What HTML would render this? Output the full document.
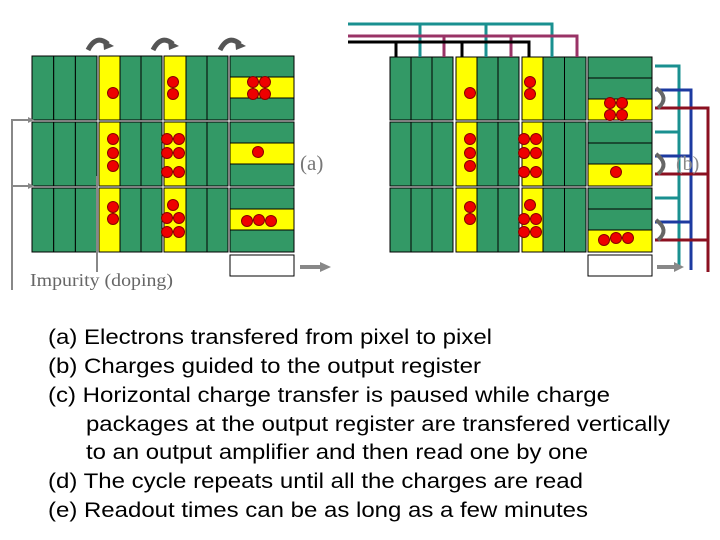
<!DOCTYPE html>
<html><head><meta charset="utf-8"><style>body{margin:0;background:#fff}svg{display:block}</style></head><body>
<svg width="720" height="540" xmlns="http://www.w3.org/2000/svg">
<g stroke="#000" stroke-width="1">
<rect x="32" y="56" width="21.7" height="64" fill="#339966"/><rect x="53.7" y="56" width="21.7" height="64" fill="#339966"/><rect x="75.4" y="56" width="21.6" height="64" fill="#339966"/>
<rect x="32" y="122" width="21.7" height="64" fill="#339966"/><rect x="53.7" y="122" width="21.7" height="64" fill="#339966"/><rect x="75.4" y="122" width="21.6" height="64" fill="#339966"/>
<rect x="32" y="188" width="21.7" height="64" fill="#339966"/><rect x="53.7" y="188" width="21.7" height="64" fill="#339966"/><rect x="75.4" y="188" width="21.6" height="64" fill="#339966"/>
<rect x="99" y="56" width="21" height="64" fill="#ffff00"/><rect x="120" y="56" width="21" height="64" fill="#339966"/><rect x="141" y="56" width="21" height="64" fill="#339966"/>
<rect x="99" y="122" width="21" height="64" fill="#ffff00"/><rect x="120" y="122" width="21" height="64" fill="#339966"/><rect x="141" y="122" width="21" height="64" fill="#339966"/>
<rect x="99" y="188" width="21" height="64" fill="#ffff00"/><rect x="120" y="188" width="21" height="64" fill="#339966"/><rect x="141" y="188" width="21" height="64" fill="#339966"/>
<rect x="164" y="56" width="22" height="64" fill="#ffff00"/><rect x="186" y="56" width="21" height="64" fill="#339966"/><rect x="207" y="56" width="21" height="64" fill="#339966"/>
<rect x="164" y="122" width="22" height="64" fill="#ffff00"/><rect x="186" y="122" width="21" height="64" fill="#339966"/><rect x="207" y="122" width="21" height="64" fill="#339966"/>
<rect x="164" y="188" width="22" height="64" fill="#ffff00"/><rect x="186" y="188" width="21" height="64" fill="#339966"/><rect x="207" y="188" width="21" height="64" fill="#339966"/>
<rect x="230" y="56" width="64" height="21" fill="#339966"/><rect x="230" y="77" width="64" height="21" fill="#ffff00"/><rect x="230" y="98" width="64" height="22" fill="#339966"/>
<rect x="230" y="122" width="64" height="21" fill="#339966"/><rect x="230" y="143" width="64" height="21" fill="#ffff00"/><rect x="230" y="164" width="64" height="22" fill="#339966"/>
<rect x="230" y="188" width="64" height="21" fill="#339966"/><rect x="230" y="209" width="64" height="21" fill="#ffff00"/><rect x="230" y="230" width="64" height="22" fill="#339966"/>
<rect x="230" y="255" width="64" height="21" fill="#fff"/>
<rect x="390" y="57" width="21" height="63" fill="#339966"/><rect x="411" y="57" width="21" height="63" fill="#339966"/><rect x="432" y="57" width="21" height="63" fill="#339966"/>
<rect x="390" y="122" width="21" height="64" fill="#339966"/><rect x="411" y="122" width="21" height="64" fill="#339966"/><rect x="432" y="122" width="21" height="64" fill="#339966"/>
<rect x="390" y="188" width="21" height="64" fill="#339966"/><rect x="411" y="188" width="21" height="64" fill="#339966"/><rect x="432" y="188" width="21" height="64" fill="#339966"/>
<rect x="456" y="57" width="21" height="63" fill="#ffff00"/><rect x="477" y="57" width="21" height="63" fill="#339966"/><rect x="498" y="57" width="21" height="63" fill="#339966"/>
<rect x="456" y="122" width="21" height="64" fill="#ffff00"/><rect x="477" y="122" width="21" height="64" fill="#339966"/><rect x="498" y="122" width="21" height="64" fill="#339966"/>
<rect x="456" y="188" width="21" height="64" fill="#ffff00"/><rect x="477" y="188" width="21" height="64" fill="#339966"/><rect x="498" y="188" width="21" height="64" fill="#339966"/>
<rect x="522" y="57" width="21" height="63" fill="#ffff00"/><rect x="543" y="57" width="21.5" height="63" fill="#339966"/><rect x="564.5" y="57" width="21.5" height="63" fill="#339966"/>
<rect x="522" y="122" width="21" height="64" fill="#ffff00"/><rect x="543" y="122" width="21.5" height="64" fill="#339966"/><rect x="564.5" y="122" width="21.5" height="64" fill="#339966"/>
<rect x="522" y="188" width="21" height="64" fill="#ffff00"/><rect x="543" y="188" width="21.5" height="64" fill="#339966"/><rect x="564.5" y="188" width="21.5" height="64" fill="#339966"/>
<rect x="588" y="57" width="64" height="21" fill="#339966"/><rect x="588" y="78" width="64" height="21" fill="#339966"/><rect x="588" y="99" width="64" height="21" fill="#ffff00"/>
<rect x="588" y="122" width="64" height="21" fill="#339966"/><rect x="588" y="143" width="64" height="21" fill="#339966"/><rect x="588" y="164" width="64" height="22" fill="#ffff00"/>
<rect x="588" y="188" width="64" height="21" fill="#339966"/><rect x="588" y="209" width="64" height="21" fill="#339966"/><rect x="588" y="230" width="64" height="22" fill="#ffff00"/>
<rect x="588" y="255" width="64" height="21" fill="#fff"/>
</g>
<g fill="#ee0000" stroke="#880000" stroke-width="1">
<circle cx="113" cy="93" r="5.5"/><circle cx="173" cy="82" r="5.5"/><circle cx="173" cy="94" r="5.5"/>
<circle cx="253" cy="82" r="5.5"/><circle cx="265" cy="82" r="5.5"/><circle cx="253" cy="94" r="5.5"/><circle cx="265" cy="94" r="5.5"/>
<circle cx="113" cy="139" r="5.5"/><circle cx="113" cy="153" r="5.5"/><circle cx="113" cy="166" r="5.5"/>
<circle cx="167" cy="139" r="5.5"/><circle cx="179" cy="139" r="5.5"/><circle cx="167" cy="153" r="5.5"/><circle cx="179" cy="153" r="5.5"/><circle cx="167" cy="172" r="5.5"/><circle cx="179" cy="172" r="5.5"/>
<circle cx="258" cy="152" r="5.5"/>
<circle cx="113" cy="207" r="5.5"/><circle cx="113" cy="219" r="5.5"/>
<circle cx="173" cy="205" r="5.5"/><circle cx="167" cy="218" r="5.5"/><circle cx="179" cy="218" r="5.5"/><circle cx="167" cy="232" r="5.5"/><circle cx="179" cy="232" r="5.5"/>
<circle cx="247" cy="221" r="5.5"/><circle cx="259" cy="220" r="5.5"/><circle cx="271" cy="221" r="5.5"/>
<circle cx="470" cy="93" r="5.5"/><circle cx="530" cy="82" r="5.5"/><circle cx="530" cy="94" r="5.5"/>
<circle cx="610" cy="103" r="5.5"/><circle cx="622" cy="103" r="5.5"/><circle cx="610" cy="115" r="5.5"/><circle cx="622" cy="115" r="5.5"/>
<circle cx="470" cy="139" r="5.5"/><circle cx="470" cy="153" r="5.5"/><circle cx="470" cy="166" r="5.5"/>
<circle cx="524" cy="139" r="5.5"/><circle cx="536" cy="139" r="5.5"/><circle cx="524" cy="153" r="5.5"/><circle cx="536" cy="153" r="5.5"/><circle cx="524" cy="172" r="5.5"/><circle cx="536" cy="172" r="5.5"/>
<circle cx="616" cy="172" r="5.5"/>
<circle cx="470" cy="207" r="5.5"/><circle cx="470" cy="219" r="5.5"/>
<circle cx="530" cy="205" r="5.5"/><circle cx="524" cy="219" r="5.5"/><circle cx="536" cy="219" r="5.5"/><circle cx="524" cy="232" r="5.5"/><circle cx="536" cy="232" r="5.5"/>
<circle cx="604" cy="240" r="5.5"/><circle cx="616" cy="238" r="5.5"/><circle cx="628" cy="238" r="5.5"/>
</g>
<g fill="none" stroke-width="3">
<path d="M348 24H552V57M420 24V57M486 24V57" stroke="#1a9090"/>
<path d="M348 36H577V57M444 36V57M511 36V57" stroke="#993366"/>
<path d="M348 42H529V57M396 42V57M462 42V57" stroke="#000"/>
</g>
<g fill="none" stroke-width="3">
<path d="M655 66H679V268M655 132H679M655 198H679" stroke="#1a9090"/>
<path d="M655 90H691V270M655 156H691M655 222H691" stroke="#1c3aa0"/>
<path d="M655 108H708V272M655 174H708M655 240H708" stroke="#8b1020"/>
</g>
<g fill="none" stroke="#666" stroke-width="4">
<path d="M656 88Q670 98 658 108"/><path d="M656 154Q670 164 658 174"/><path d="M656 220Q670 230 658 240"/>
</g>
<text x="676" y="170" font-family="Liberation Serif, serif" font-size="20" fill="#888">(b)</text>
<g fill="none" stroke="#555" stroke-width="5">
<path d="M88 50Q96 34 108 44"/><path d="M153 50Q161 34 173 44"/><path d="M220 50Q228 34 240 44"/>
</g>
<g fill="#555"><path d="M103 40L114 46L104 50Z"/><path d="M168 40L179 46L169 50Z"/><path d="M235 40L246 46L236 50Z"/></g>
<g stroke="#888" stroke-width="4"><line x1="300" y1="267" x2="322" y2="267"/><line x1="657" y1="267" x2="676" y2="267"/></g>
<g fill="#888"><path d="M320 262L331 267L320 272Z"/><path d="M674 262L684 267L674 272Z"/></g>
<g stroke="#888" stroke-width="2" fill="none"><path d="M12 290V120H30M12 186H30"/><path d="M97 176V272"/></g>
<g fill="#888"><path d="M28 117L34 120L28 123Z"/><path d="M28 183L34 186L28 189Z"/></g>
<text x="30" y="286" font-family="Liberation Serif, serif" font-size="18" fill="#666" textLength="143" lengthAdjust="spacingAndGlyphs">Impurity (doping)</text>
<text x="300" y="170" font-family="Liberation Serif, serif" font-size="21" fill="#777">(a)</text>
<g font-family="Liberation Sans, Arial, sans-serif" font-size="21" fill="#000">
<text x="48" y="344" textLength="444" lengthAdjust="spacingAndGlyphs">(a) Electrons transfered from pixel to pixel</text>
<text x="48" y="373" textLength="433" lengthAdjust="spacingAndGlyphs">(b) Charges guided to the output register</text>
<text x="48" y="402" textLength="562" lengthAdjust="spacingAndGlyphs">(c) Horizontal charge transfer is paused while charge</text>
<text x="86" y="431" textLength="584" lengthAdjust="spacingAndGlyphs">packages at the output register are transfered vertically</text>
<text x="86" y="459" textLength="502" lengthAdjust="spacingAndGlyphs">to an output amplifier and then read one by one</text>
<text x="48" y="488" textLength="535" lengthAdjust="spacingAndGlyphs">(d) The cycle repeats until all the charges are read</text>
<text x="48" y="517" textLength="540" lengthAdjust="spacingAndGlyphs">(e) Readout times can be as long as a few minutes</text>
</g>
</svg>
</body></html>
